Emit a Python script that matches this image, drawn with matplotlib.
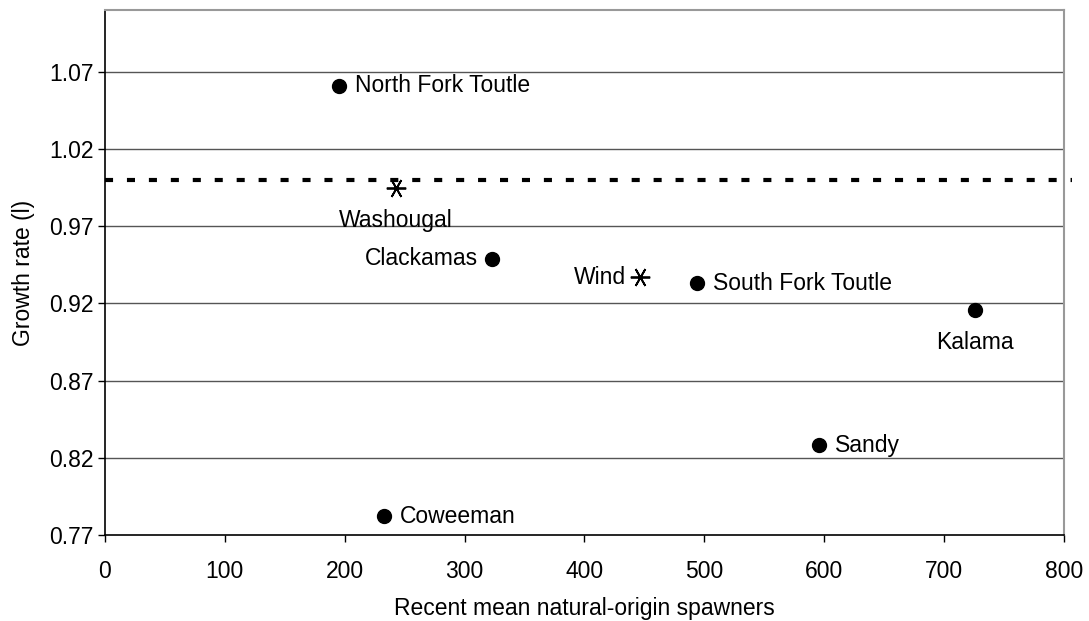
import matplotlib
matplotlib.use("Agg")
import matplotlib.pyplot as plt

plt.rcParams['font.family'] = ['Liberation Sans', 'DejaVu Sans']

# populations, spawners vs growth rate
names = ["North Fork Toutle", "Washougal", "Clackamas", "Wind",
         "South Fork Toutle", "Kalama", "Sandy", "Coweeman"]
spawners = [195, 243, 323, 446, 494, 726, 596, 233]
growth = [1.061, 0.995, 0.949, 0.937, 0.933, 0.916, 0.828, 0.782]
kind = ["dot", "star", "dot", "star", "dot", "dot", "dot", "dot"]
label_side = ["right", "below", "left", "left", "right", "below", "right", "right"]

# replacement line
repl_x = [0, 807]
repl_y = [1.0, 1.0]

yticks = [0.77, 0.82, 0.87, 0.92, 0.97, 1.02, 1.07]
xticks = [0, 100, 200, 300, 400, 500, 600, 700, 800]

fs = 16.5

fig = plt.figure(figsize=(10.89, 6.21), dpi=100)
ax = fig.add_axes([0.0964, 0.1385, 0.8806, 0.8455])

ax.set_xlim(0, 800)
ax.set_ylim(0.77, 1.11)
ax.set_yticks(yticks)
ax.set_yticklabels(["%.2f" % v for v in yticks])
ax.set_xticks(xticks)

for v in yticks[1:]:
    ax.axhline(v, color='#555555', lw=1.0, zorder=1)

plt.rcParams['lines.scale_dashes'] = False
ln, = ax.plot(repl_x, repl_y, color='black', lw=3.0, clip_on=False, zorder=2)
ln.set_dashes([5.8, 10.0])
ln.set_dash_capstyle('butt')

for n, x, y, k, side in zip(names, spawners, growth, kind, label_side):
    if k == "dot":
        ax.plot(x, y, 'o', color='black', ms=10, zorder=3)
    else:
        ax.plot(x, y, marker=(6, 2, 90), color='black', ms=14, mew=1.3,
                linestyle='none', zorder=3)
    if side == "right":
        ax.annotate(n, (x, y), xytext=(11.5, 0), textcoords='offset points',
                    ha='left', va='center', fontsize=fs)
    elif side == "left":
        ax.annotate(n, (x, y), xytext=(-10, 0), textcoords='offset points',
                    ha='right', va='center', fontsize=fs)
    else:
        ax.annotate(n, (x, y), xytext=(0, -24), textcoords='offset points',
                    ha='center', va='center', fontsize=fs)

for s in ['left', 'bottom']:
    ax.spines[s].set_color('black')
    ax.spines[s].set_linewidth(1.2)
for s in ['top', 'right']:
    ax.spines[s].set_color('#999999')
    ax.spines[s].set_linewidth(1.5)

ax.tick_params(axis='both', direction='out', length=5, width=1.0,
               labelsize=fs, colors='black')
ax.tick_params(axis='y', pad=3)
ax.tick_params(axis='x', pad=13)

ax.set_xlabel("Recent mean natural-origin spawners", fontsize=fs, labelpad=10)
ax.set_ylabel("Growth rate (l)", fontsize=fs, labelpad=10)

fig.savefig("out.png", dpi=100)
